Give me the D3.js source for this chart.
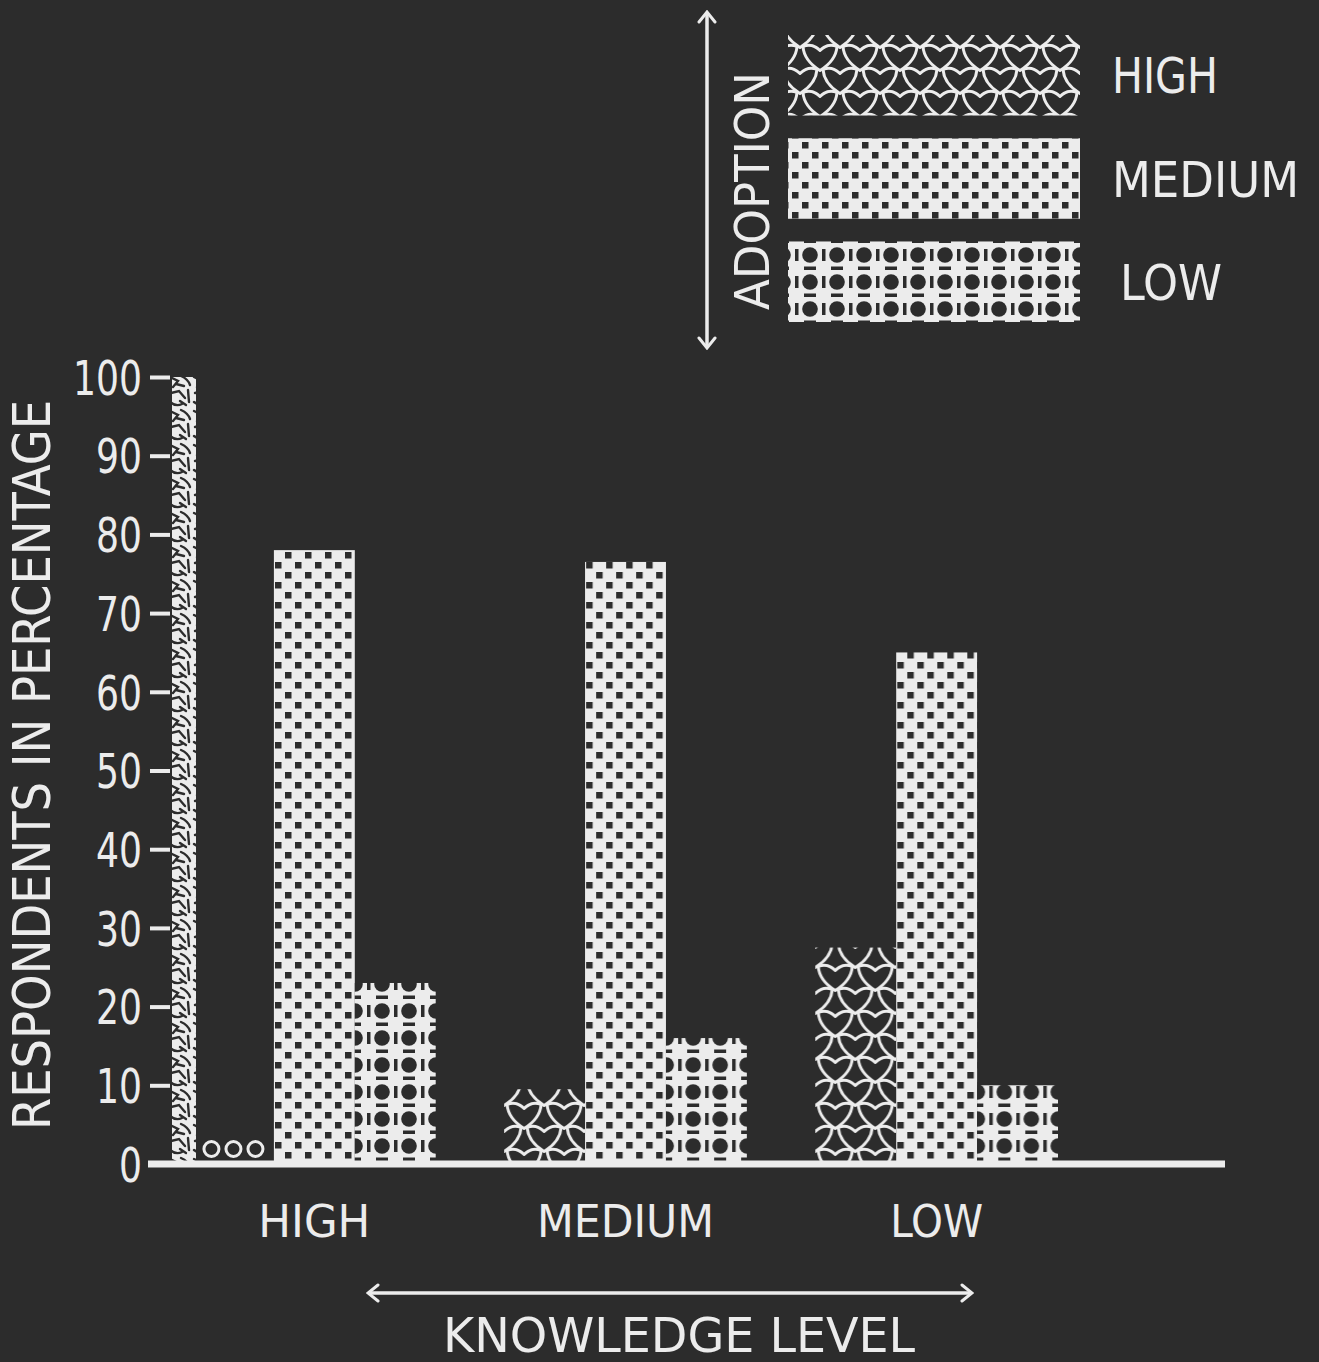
<!DOCTYPE html>
<html>
<head>
<meta charset="utf-8">
<script src="https://cdn.jsdelivr.net/npm/d3@7"></script>
<style>
  html, body { margin: 0; padding: 0; background: #2c2c2c; }
  svg { display: block; }
  text { font-family: "DejaVu Sans Condensed", "DejaVu Sans", sans-serif; fill: #ececec; }
</style>
</head>
<body>
<svg id="chart"></svg>
<script>
// Knowledge level groups (x axis)
var knowledge = ["HIGH", "MEDIUM", "LOW"];
// Adoption levels (series)
var adoption = ["HIGH", "MEDIUM", "LOW"];
// Respondents in percentage, one value per knowledge group
var adoptHigh   = [0, 9.5, 27.5];
var adoptMedium = [78, 76.5, 65];
var adoptLow    = [23, 16, 10];
// Y tick values
var yTicks = [0, 10, 20, 30, 40, 50, 60, 70, 80, 90, 100];

var W = 1319, H = 1362;
var WHITE = "#ececec", DARK = "#2c2c2c";

var svg = d3.select("#chart").attr("width", W).attr("height", H);
svg.append("rect").attr("width", W).attr("height", H).attr("fill", DARK);

// ---- Patterns ----
var defs = svg.append("defs");

// medium: white with staggered dark squares
var pm = defs.append("pattern").attr("id", "pat-MEDIUM")
  .attr("patternUnits", "userSpaceOnUse").attr("width", 20).attr("height", 20);
pm.append("rect").attr("width", 20).attr("height", 20).attr("fill", WHITE);
pm.selectAll("rect.sq").data([[2, 2], [12, 12]]).enter().append("rect")
  .attr("class", "sq")
  .attr("x", function(d) { return d[0]; }).attr("y", function(d) { return d[1]; })
  .attr("width", 6.5).attr("height", 6.5).attr("fill", DARK);

// low: circles with bars between, dashes between rows
var pl = defs.append("pattern").attr("id", "pat-LOW")
  .attr("patternUnits", "userSpaceOnUse").attr("width", 27).attr("height", 27);
pl.append("rect").attr("width", 27).attr("height", 27).attr("fill", WHITE);
pl.selectAll("circle").data([0, 27]).enter().append("circle")
  .attr("cx", function(d) { return d; }).attr("cy", 12).attr("r", 7.8).attr("fill", DARK);
pl.append("rect").attr("x", 12).attr("y", 6).attr("width", 3.5).attr("height", 12).attr("fill", DARK);
pl.append("rect").attr("x", 0).attr("y", 23.5).attr("width", 6).attr("height", 3.5).attr("fill", DARK);
pl.append("rect").attr("x", 21).attr("y", 23.5).attr("width", 6).attr("height", 3.5).attr("fill", DARK);

// high: interlocking three-lobed shapes outlined in white
var ph = defs.append("pattern").attr("id", "pat-HIGH")
  .attr("patternUnits", "userSpaceOnUse").attr("width", 40).attr("height", 46);
ph.append("rect").attr("width", 40).attr("height", 46).attr("fill", DARK);
var lobe = "M -17,-11 Q -8,-15 0,-7 Q 8,-15 17,-11 Q 16,3 0,13 Q -16,3 -17,-11 Z";
ph.selectAll("path").data([[20, 11.5], [0, 34.5], [40, 34.5], [0, -11.5], [40, -11.5], [20, 57.5]]).enter().append("path")
  .attr("d", lobe)
  .attr("transform", function(d) { return translate(d[0], d[1]); })
  .attr("fill", "none").attr("stroke", WHITE).attr("stroke-width", 3)
  .attr("stroke-linejoin", "round");

// axis strip: white with dark squiggles
var pa = defs.append("pattern").attr("id", "pat-axis")
  .attr("patternUnits", "userSpaceOnUse").attr("width", 24).attr("height", 34);
pa.append("rect").attr("width", 24).attr("height", 34).attr("fill", WHITE);
pa.selectAll("path").data([
  "M2,3 L10,7 L5,13", "M13,2 Q20,5 22,11", "M3,19 L11,17 L17,24",
  "M20,16 L21,28", "M2,28 Q8,33 14,30", "M8,10 L16,12", "M12,27 L18,31"
]).enter().append("path")
  .attr("d", function(d) { return d; })
  .attr("fill", "none").attr("stroke", DARK).attr("stroke-width", 2.4)
  .attr("stroke-linecap", "round");

// arrow heads
defs.append("marker").attr("id", "arrow")
  .attr("viewBox", "-12 -10 14 20").attr("markerWidth", 14).attr("markerHeight", 20)
  .attr("markerUnits", "userSpaceOnUse").attr("orient", "auto-start-reverse")
  .append("path").attr("d", "M-10,-8 L0,0 L-10,8")
  .attr("fill", "none").attr("stroke", WHITE).attr("stroke-width", 3).attr("stroke-linecap", "round");

// ---- Scales ----
var y = d3.scaleLinear().domain([0, 100]).range([1164, 377]);
var x0 = d3.scaleBand().domain(knowledge).range([193, 1058]).paddingInner(0.22);
var x1 = d3.scaleBand().domain(adoption).range([0, x0.bandwidth()]);

var rows = knowledge.map(function(k, i) {
  return { k: k, vals: [
    { s: "HIGH", v: adoptHigh[i] },
    { s: "MEDIUM", v: adoptMedium[i] },
    { s: "LOW", v: adoptLow[i] }
  ]};
});

// ---- Axis strip along y ----
svg.append("rect")
  .attr("x", 172).attr("y", y(100))
  .attr("width", 24).attr("height", y(0) - y(100))
  .attr("fill", "url(#pat-axis)");

// ---- Y axis ----
var yAxis = svg.append("g").attr("transform", translate(170, 0))
  .call(d3.axisLeft(y).tickValues(yTicks).tickSize(20).tickPadding(8));
yAxis.select(".domain").remove();
yAxis.selectAll("line").attr("stroke", WHITE).attr("stroke-width", 4);
yAxis.selectAll("text")
  .attr("fill", WHITE).style("font-size", "48px").attr("font-family", null)
  .attr("dy", "0.36em")
  .attr("textLength", function(d) { return String(d).length * 23; })
  .attr("lengthAdjust", "spacingAndGlyphs");

svg.append("text")
  .attr("transform", translate(50, 765) + " " + rotate(-90))
  .attr("text-anchor", "middle")
  .style("font-size", "51px")
  .attr("textLength", 730).attr("lengthAdjust", "spacingAndGlyphs")
  .text("RESPONDENTS IN PERCENTAGE");

// ---- Bars ----
var groups = svg.selectAll("g.group").data(rows).enter().append("g")
  .attr("class", "group")
  .attr("transform", function(d) { return translate(x0(d.k), 0); });

groups.selectAll("rect").data(function(d) { return d.vals.filter(function(e) { return e.v > 0; }); })
  .enter().append("rect")
  .attr("x", function(d) { return x1(d.s); })
  .attr("y", function(d) { return y(d.v); })
  .attr("width", x1.bandwidth())
  .attr("height", function(d) { return y(0) - y(d.v); })
  .attr("fill", function(d) { return "url(#pat-" + d.s + ")"; });

// zero values marked with small circles
groups.each(function(d) {
  var zeros = d.vals.filter(function(e) { return e.v === 0; });
  var g = d3.select(this);
  zeros.forEach(function(e) {
    var cx = x1(e.s) + x1.bandwidth() / 2;
    g.selectAll(null).data([-22, 0, 22]).enter().append("circle")
      .attr("cx", function(o) { return cx + o; })
      .attr("cy", y(0) - 15)
      .attr("r", 7.5)
      .attr("fill", "none").attr("stroke", WHITE).attr("stroke-width", 3);
  });
});

// baseline
svg.append("line")
  .attr("x1", 148).attr("x2", 1225)
  .attr("y1", y(0)).attr("y2", y(0))
  .attr("stroke", WHITE).attr("stroke-width", 7);

// category labels
var catLen = { "HIGH": 112, "MEDIUM": 177, "LOW": 93 };
svg.selectAll("text.cat").data(knowledge).enter().append("text")
  .attr("class", "cat")
  .attr("x", function(d) { return x0(d) + x0.bandwidth() / 2; })
  .attr("y", 1237)
  .attr("text-anchor", "middle")
  .style("font-size", "45px")
  .attr("textLength", function(d) { return catLen[d]; })
  .attr("lengthAdjust", "spacingAndGlyphs")
  .text(function(d) { return d; });

// knowledge arrow and title
svg.append("line")
  .attr("x1", 368).attr("x2", 972).attr("y1", 1293).attr("y2", 1293)
  .attr("stroke", WHITE).attr("stroke-width", 3.5)
  .attr("marker-start", "url(#arrow)").attr("marker-end", "url(#arrow)");

svg.append("text")
  .attr("x", 679).attr("y", 1352)
  .attr("text-anchor", "middle")
  .style("font-size", "48px")
  .attr("textLength", 472).attr("lengthAdjust", "spacingAndGlyphs")
  .text("KNOWLEDGE LEVEL");

// ---- Legend ----
var ly = d3.scaleBand().domain(adoption).range([35, 322]).paddingInner(0.22);

svg.append("line")
  .attr("x1", 707).attr("x2", 707).attr("y1", 12).attr("y2", 348)
  .attr("stroke", WHITE).attr("stroke-width", 3.5)
  .attr("marker-start", "url(#arrow)").attr("marker-end", "url(#arrow)");

svg.append("text")
  .attr("transform", translate(769, 191) + " " + rotate(-90))
  .attr("text-anchor", "middle")
  .style("font-size", "48px")
  .attr("textLength", 238).attr("lengthAdjust", "spacingAndGlyphs")
  .text("ADOPTION");

svg.selectAll("rect.swatch").data(adoption).enter().append("rect")
  .attr("class", "swatch")
  .attr("x", 788).attr("y", function(d) { return ly(d); })
  .attr("width", 292).attr("height", ly.bandwidth())
  .attr("fill", function(d) { return "url(#pat-" + d + ")"; });

var legLen = { "HIGH": 106, "MEDIUM": 187, "LOW": 102 };
svg.selectAll("text.leg").data(adoption).enter().append("text")
  .attr("class", "leg")
  .attr("x", function(d) { return d === "LOW" ? 1120 : 1112; })
  .attr("y", function(d) { return ly(d) + ly.bandwidth() / 2; })
  .attr("dy", "0.36em")
  .style("font-size", "50px")
  .attr("textLength", function(d) { return legLen[d]; })
  .attr("lengthAdjust", "spacingAndGlyphs")
  .text(function(d) { return d; });

function translate(x, y) {
  return "translate(" + x + " " + y + ")";
}

function rotate(a) {
  return "rotate(" + a + ")";
}
</script>
</body>
</html>
